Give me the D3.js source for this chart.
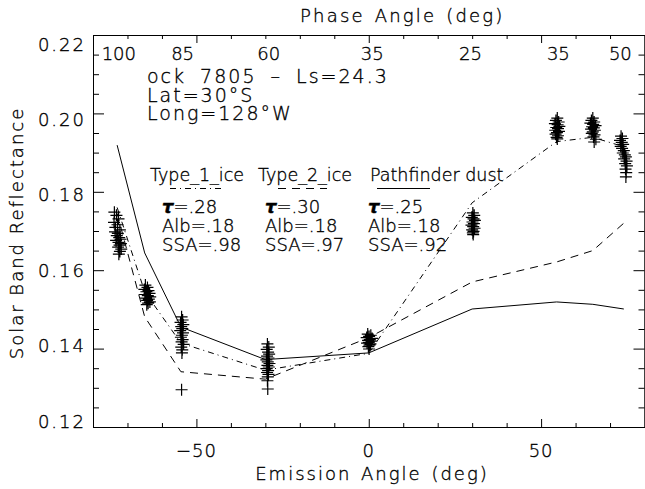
<!DOCTYPE html>
<html>
<head>
<meta charset="utf-8">
<script src="https://cdn.jsdelivr.net/npm/d3@7"></script>
<style>
  body { margin: 0; background: #fff; }
  svg text { font-family: "DejaVu Sans", sans-serif; font-weight: 200; fill: #000; stroke: #000; stroke-width: 0.35; }
</style>
</head>
<body>
<div id="chart"></div>
<script>
// emission angle / reflectance pairs, one array per observation cluster
const cluster1 = [[-73.8,0.1748],[-73.2,0.1740],[-72.6,0.1731],[-73.9,0.1722],[-72.9,0.1716],[-73.5,0.1709],[-72.2,0.1703],[-73.6,0.1698],[-72.8,0.1694],[-73.1,0.1688],[-72.4,0.1683],[-72.0,0.1679],[-73.3,0.1676],[-72.6,0.1671],[-71.9,0.1668],[-72.3,0.1664],[-72.7,0.1659],[-71.8,0.1654],[-72.2,0.1648],[-72.5,0.1641]]
const cluster2 = [[-64.8,0.1562],[-64.2,0.1556],[-65.1,0.1551],[-63.9,0.1548],[-64.5,0.1545],[-63.6,0.1541],[-64.9,0.1538],[-64.1,0.1535],[-63.4,0.1532],[-64.6,0.1529],[-63.8,0.1526],[-64.3,0.1523],[-63.5,0.1519],[-64.0,0.1516],[-64.4,0.1512]]
const cluster3 = [[-54.3,0.1481],[-54.0,0.1473],[-54.6,0.1467],[-53.8,0.1461],[-54.4,0.1456],[-54.1,0.1451],[-54.7,0.1446],[-53.9,0.1440],[-54.2,0.1434],[-54.5,0.1429],[-54.0,0.1423],[-54.3,0.1417],[-53.7,0.1411],[-54.4,0.1404],[-54.1,0.1397],[-54.2,0.1389],[-54.3,0.1295]]
const cluster4 = [[-29.4,0.1412],[-29.0,0.1404],[-29.6,0.1398],[-29.2,0.1391],[-28.9,0.1386],[-29.5,0.1381],[-29.1,0.1376],[-29.7,0.1371],[-29.3,0.1366],[-28.8,0.1362],[-29.4,0.1357],[-29.0,0.1353],[-29.6,0.1349],[-29.2,0.1344],[-29.5,0.1339],[-29.1,0.1334],[-29.3,0.1328],[-29.4,0.1318],[-29.3,0.1297]]
const cluster5 = [[-0.3,0.1437],[0.6,0.1434],[0.1,0.1431],[-0.6,0.1428],[1.0,0.1426],[0.3,0.1423],[-0.2,0.1421],[0.8,0.1419],[0.0,0.1416],[-0.5,0.1414],[0.5,0.1412],[0.2,0.1409],[-0.1,0.1405],[0.1,0.1399]]
const cluster6 = [[30.2,0.1746],[30.6,0.1740],[29.9,0.1735],[30.4,0.1731],[30.8,0.1727],[30.1,0.1723],[30.5,0.1719],[29.8,0.1715],[30.3,0.1711],[30.7,0.1707],[30.0,0.1703],[30.4,0.1699],[30.2,0.1695],[30.3,0.1691]]
const cluster7 = [[54.7,0.1988],[54.3,0.1982],[55.1,0.1978],[54.0,0.1974],[54.8,0.1971],[55.3,0.1967],[54.4,0.1964],[54.9,0.1961],[54.1,0.1957],[55.2,0.1954],[54.6,0.1951],[54.2,0.1947],[54.9,0.1943],[54.5,0.1939],[54.7,0.1935]]
const cluster8 = [[65.0,0.1988],[64.6,0.1982],[65.4,0.1978],[64.3,0.1975],[65.1,0.1972],[65.8,0.1969],[64.8,0.1966],[65.3,0.1963],[64.5,0.1960],[65.6,0.1957],[65.0,0.1953],[64.7,0.1949],[65.5,0.1945],[65.2,0.1940],[65.9,0.1934],[65.4,0.1927]]
const cluster9 = [[73.2,0.1942],[73.6,0.1936],[72.9,0.1931],[73.4,0.1926],[73.8,0.1921],[73.1,0.1916],[73.5,0.1911],[74.0,0.1905],[73.7,0.1899],[74.3,0.1894],[74.6,0.1889],[74.1,0.1884],[74.8,0.1878],[74.4,0.1872],[74.9,0.1866],[74.5,0.1858],[74.7,0.1849],[74.6,0.1838]]

// model curves
const modelAngles = [-73, -65, -54.5, -30, 0, 30, 54.5, 65, 74]
const type1Ice = [0.1760, 0.1545, 0.1414, 0.1345, 0.1388, 0.1772, 0.1928, 0.1939, 0.1915]
const type2Ice = [0.1745, 0.1481, 0.1341, 0.1322, 0.1428, 0.1570, 0.1621, 0.1650, 0.1720]
const dust = [0.1919, 0.1644, 0.1455, 0.1372, 0.1389, 0.1501, 0.1519, 0.1513, 0.1501]

// axes
const xMajor = [-50, 0, 50]
const xMinor = [-70, -60, -40, -30, -20, -10, 10, 20, 30, 40, 60, 70]
const yMajor = [0.12, 0.14, 0.16, 0.18, 0.20, 0.22]
const phaseLabels = ["100", "85", "60", "35", "25", "35", "50"]
const phaseAt = [-72.5, -54, -29, 1, 29.5, 55, 73]

// legend
const legendNames = ["Type_1_ice", "Type_2_ice", "Pathfinder dust"]
const legendTau = [".28", ".30", ".25"]
const legendAlb = [".18", ".18", ".18"]
const legendSSA = [".98", ".97", ".92"]
const infoLines = ["ock 7805 \u2013 Ls=24.3", "Lat=30\u00b0S", "Long=128\u00b0W"]

const W = 645, H = 489
const mLeft = 93, mRight = 644.5, mTop = 35, mBottom = 427
const fs = 18

const svg = d3.select("#chart").append("svg")
    .attr("width", W)
    .attr("height", H)

const x = d3.scaleLinear().domain([-80, 80]).range([mLeft, mRight])
const y = d3.scaleLinear().domain([0.12, 0.22]).range([mBottom, mTop])
// tick labels on the y axis sit a bit off the ticks in the original
const yLab = d3.scaleLinear().domain([0.12, 0.22]).range([421, 44])

function axisG(axis, tx, ty) {
    const g = svg.append("g")
        .attr("transform", `translate(${tx},${ty})`)
        .call(axis)
    g.selectAll("path, line").attr("stroke", "#000").attr("stroke-width", 1)
    g.selectAll("text").remove()
    return g
}

// bottom
axisG(d3.axisBottom(x).tickValues(xMajor).tickSizeInner(-8).tickSizeOuter(0), 0, mBottom)
axisG(d3.axisBottom(x).tickValues(xMinor).tickSizeInner(-4).tickSizeOuter(0), 0, mBottom)
// top
axisG(d3.axisTop(x).tickValues(xMajor).tickSizeInner(-8).tickSizeOuter(0), 0, mTop)
axisG(d3.axisTop(x).tickValues(xMinor).tickSizeInner(-4).tickSizeOuter(0), 0, mTop)
// left / right
const yMinor = d3.range(0.125, 0.22, 0.005).filter(v => Math.abs(v * 50 - Math.round(v * 50)) > 1e-6)
axisG(d3.axisLeft(y).tickValues(yMajor).tickSizeInner(-11).tickSizeOuter(0), mLeft, 0)
axisG(d3.axisLeft(y).tickValues(yMinor).tickSizeInner(-6).tickSizeOuter(0), mLeft, 0)
axisG(d3.axisRight(y).tickValues(yMajor).tickSizeInner(-11).tickSizeOuter(0), mRight, 0)
axisG(d3.axisRight(y).tickValues(yMinor).tickSizeInner(-6).tickSizeOuter(0), mRight, 0)

// tick labels
svg.selectAll(".xlab").data(xMajor).enter().append("text")
    .attr("x", d => x(d)).attr("y", 457)
    .attr("text-anchor", "middle").attr("font-size", fs)
    .attr("letter-spacing", 1)
    .text(d => d < 0 ? "\u2212" + Math.abs(d) : d)

svg.selectAll(".ylab").data(yMajor).enter().append("text")
    .attr("x", 86).attr("y", d => yLab(d) + 6.5)
    .attr("text-anchor", "end").attr("font-size", fs)
    .attr("letter-spacing", 2)
    .text(d => d3.format(".2f")(d))

svg.selectAll(".plab").data(phaseLabels).enter().append("text")
    .attr("x", (d, i) => x(phaseAt[i])).attr("y", 60)
    .attr("text-anchor", "middle").attr("font-size", fs)
    .text(d => d)

// titles
svg.append("text").attr("x", 300).attr("y", 22).attr("font-size", fs)
    .attr("letter-spacing", 2.2).attr("word-spacing", 2)
    .text("Phase Angle (deg)")
svg.append("text").attr("x", 372).attr("y", 480).attr("text-anchor", "middle").attr("font-size", fs)
    .attr("letter-spacing", 2).attr("word-spacing", 2)
    .text("Emission Angle (deg)")
svg.append("text")
    .attr("transform", "translate(23,233) rotate(-90)")
    .attr("text-anchor", "middle").attr("font-size", fs)
    .attr("letter-spacing", 2)
    .text("Solar Band Reflectance")

svg.selectAll(".info").data(infoLines).enter().append("text")
    .attr("x", 147).attr("y", (d, i) => [83, 101.5, 120][i])
    .attr("font-size", 19)
    .attr("letter-spacing", 2).attr("word-spacing", 6)
    .text(d => d)

// model lines
const line = d3.line().x(d => x(d[0])).y(d => y(d[1]))
const models = [
    { vals: type1Ice, dash: "6,4,1,4" },
    { vals: type2Ice, dash: "8,6" },
    { vals: dust, dash: null }
]
models.forEach(m => {
    svg.append("path")
        .datum(modelAngles.map((a, i) => [a, m.vals[i]]))
        .attr("d", line)
        .attr("fill", "none")
        .attr("stroke", "#000")
        .attr("stroke-width", 1)
        .attr("stroke-dasharray", m.dash)
})

// legend
const headX = [150, 258, 370], valX = [162, 265, 368], sampleX = [[170, 225], [278, 327], [377, 430]]
legendNames.forEach((n, i) => {
    svg.append("text").attr("x", headX[i]).attr("y", 181).attr("font-size", 17.5).text(n)
    svg.append("line")
        .attr("x1", sampleX[i][0]).attr("x2", sampleX[i][1])
        .attr("y1", 188.5).attr("y2", 188.5)
        .attr("stroke", "#000").attr("stroke-dasharray", models[i].dash)
    const t = svg.append("text").attr("x", valX[i]).attr("y", 213).attr("font-size", fs)
    t.append("tspan").attr("font-weight", "bold").attr("font-style", "italic").text("\u03c4")
    t.append("tspan").text("=" + legendTau[i])
    svg.append("text").attr("x", valX[i]).attr("y", 232).attr("font-size", fs).text("Alb=" + legendAlb[i])
    svg.append("text").attr("x", valX[i]).attr("y", 251).attr("font-size", fs).text("SSA=" + legendSSA[i])
})

// data points as plus signs
const points = [].concat(cluster1, cluster2, cluster3, cluster4, cluster5, cluster6, cluster7, cluster8, cluster9)
svg.append("path")
    .attr("d", points.map(p => {
        const px = x(p[0]), py = y(p[1])
        return `M${px - 6},${py}H${px + 6}M${px},${py - 6}V${py + 6}`
    }).join(""))
    .attr("fill", "none")
    .attr("stroke", "#000")
    .attr("stroke-width", 1.2)
</script>
</body>
</html>
